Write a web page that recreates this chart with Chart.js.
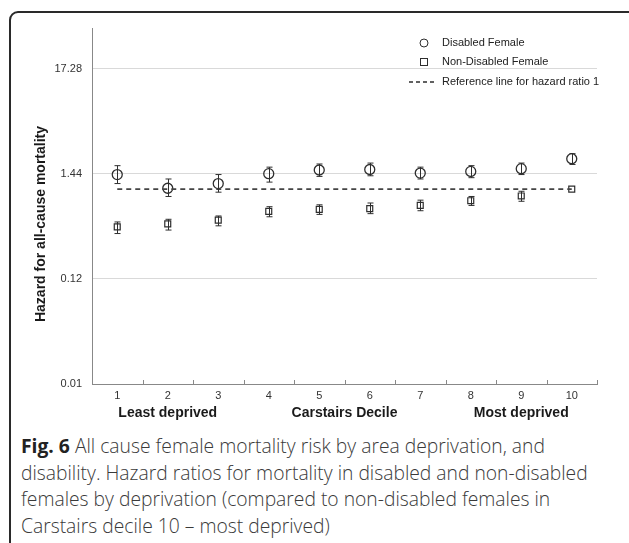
<!DOCTYPE html>
<html>
<head>
<meta charset="utf-8">
<script src="https://cdn.jsdelivr.net/npm/chart.js@4.4.1/dist/chart.umd.min.js"></script>
<style>
  html, body { margin: 0; padding: 0; background: #fff; overflow: hidden; width: 629px; height: 543px; }
  .card { position: absolute; left: 9px; top: 11px; width: 700px; height: 600px; border: 2px solid #2a2a2a; border-radius: 9px; }
  .plot { position: absolute; left: 0; top: 0; width: 629px; height: 430px; }
  .caption { position: absolute; left: 21px; top: 433px; font-family: 'Open Sans', sans-serif; font-weight: 300; font-size: 19.3px; line-height: 26.5px; color: #3a3a3a; white-space: nowrap; }
  .caption b { color: #222; font-weight: 700; }
</style>
</head>
<body>
<div class="card"></div>
<div class="plot"><canvas id="myChart" width="629" height="430"></canvas></div>
<div class="caption">
  <b>Fig. 6</b> All cause female mortality risk by area deprivation, and<br>
  disability. Hazard ratios for mortality in disabled and non-disabled<br>
  females by deprivation (compared to non-disabled females in<br>
  Carstairs decile 10 – most deprived)
</div>
<script>
const deciles = ['1', '2', '3', '4', '5', '6', '7', '8', '9', '10'];
const disabledHR = [1.41, 1.02, 1.14, 1.44, 1.57, 1.59, 1.46, 1.52, 1.62, 2.05];
const disabledLow = [1.14, 0.84, 0.93, 1.18, 1.35, 1.37, 1.27, 1.31, 1.41, 1.79];
const disabledHigh = [1.74, 1.27, 1.41, 1.68, 1.81, 1.85, 1.68, 1.74, 1.85, 2.31];
const nonDisabledHR = [0.41, 0.44, 0.48, 0.59, 0.62, 0.63, 0.68, 0.76, 0.85, 1.00];
const nonDisabledLow = [0.35, 0.38, 0.42, 0.52, 0.55, 0.56, 0.60, 0.68, 0.75, null];
const nonDisabledHigh = [0.46, 0.49, 0.53, 0.66, 0.69, 0.72, 0.77, 0.84, 0.95, null];
const referenceHR = [1, 1, 1, 1, 1, 1, 1, 1, 1, 1];
const yTickValues = [0.01, 0.12, 1.44, 17.28];
const yTickLabels = ['0.01', '0.12', '1.44', '17.28'];
const groupLabels = ['Least deprived', 'Carstairs Decile', 'Most deprived'];

const ink = '#2e2e2e';
const font = "'Liberation Sans', Arial, sans-serif";

// error bars, legend, inside tick marks and the extra axis texts
const extras = {
  id: 'extras',
  afterDatasetsDraw(chart) {
    const { ctx, chartArea, scales: { x, y } } = chart;
    ctx.save();
    ctx.strokeStyle = ink;
    ctx.lineWidth = 1;
    [[disabledLow, disabledHigh], [nonDisabledLow, nonDisabledHigh]].forEach(([lo, hi]) => {
      lo.forEach((v, i) => {
        if (v == null) return;
        const px = Math.round(x.getPixelForValue(i)) + 0.5;
        const y1 = y.getPixelForValue(v);
        const y2 = y.getPixelForValue(hi[i]);
        ctx.beginPath();
        ctx.moveTo(px, y1); ctx.lineTo(px, y2);
        ctx.moveTo(px - 3, y1); ctx.lineTo(px + 3, y1);
        ctx.moveTo(px - 3, y2); ctx.lineTo(px + 3, y2);
        ctx.stroke();
      });
    });

    // small tick marks between deciles, pointing into the plot
    const step = x.getPixelForValue(1) - x.getPixelForValue(0);
    ctx.strokeStyle = '#888';
    ctx.beginPath();
    for (let i = 0; i <= deciles.length; i++) {
      const bx = Math.round(x.getPixelForValue(0) - step / 2 + i * step) + 0.5;
      ctx.moveTo(bx, chartArea.bottom);
      ctx.lineTo(bx, chartArea.bottom - 4);
    }
    ctx.stroke();

    // legend
    ctx.strokeStyle = ink;
    const mx = chartArea.right - 173;
    const tx = chartArea.right - 155;
    const rows = [chartArea.top + 15, chartArea.top + 34, chartArea.top + 54];
    ctx.lineWidth = 1;
    ctx.beginPath();
    ctx.arc(mx, rows[0], 4, 0, Math.PI * 2);
    ctx.stroke();
    ctx.strokeRect(mx - 3.5, rows[1] - 3.5, 7, 7);
    ctx.setLineDash([4, 3]);
    ctx.lineWidth = 1.5;
    ctx.beginPath();
    ctx.moveTo(mx - 15, rows[2]); ctx.lineTo(mx + 13, rows[2]);
    ctx.stroke();
    ctx.setLineDash([]);
    ctx.fillStyle = '#222';
    ctx.font = '11px ' + font;
    ctx.textBaseline = 'middle';
    ctx.textAlign = 'left';
    ctx.fillText('Disabled Female', tx, rows[0]);
    ctx.fillText('Non-Disabled Female', tx, rows[1]);
    ctx.fillText('Reference line for hazard ratio 1', tx, rows[2]);

    // group labels under the x axis
    ctx.font = 'bold 14px ' + font;
    ctx.textAlign = 'center';
    ctx.fillStyle = '#1a1a1a';
    const gy = chartArea.bottom + 29;
    ctx.fillText(groupLabels[0], x.getPixelForValue(1), gy);
    ctx.fillText(groupLabels[1], (chartArea.left + chartArea.right) / 2, gy);
    ctx.fillText(groupLabels[2], x.getPixelForValue(8), gy);

    // y title
    ctx.save();
    ctx.translate(chartArea.left - 51, (chartArea.top + chartArea.bottom) / 2 + 18);
    ctx.rotate(-Math.PI / 2);
    ctx.fillText('Hazard for all-cause mortality', 0, 0);
    ctx.restore();
    ctx.restore();
  }
};

const ctx = document.getElementById('myChart').getContext('2d');
new Chart(ctx, {
  type: 'line',
  data: {
    labels: deciles,
    datasets: [
      {
        label: 'Reference line for hazard ratio 1',
        data: referenceHR,
        borderColor: '#444',
        borderWidth: 1.8,
        borderDash: [5, 4],
        pointRadius: 0,
        fill: false
      },
      {
        label: 'Disabled Female',
        data: disabledHR,
        showLine: false,
        pointStyle: 'circle',
        pointRadius: 5,
        pointBorderWidth: 1.3,
        pointBorderColor: ink,
        pointBackgroundColor: 'rgba(255,255,255,0)'
      },
      {
        label: 'Non-Disabled Female',
        data: nonDisabledHR,
        showLine: false,
        pointStyle: 'rect',
        pointRadius: 4.2,
        pointBorderWidth: 1.2,
        pointBorderColor: ink,
        pointBackgroundColor: 'rgba(255,255,255,0)'
      }
    ]
  },
  options: {
    responsive: false,
    animation: false,
    layout: { padding: { top: 28, right: 32, left: 0, bottom: 0 } },
    plugins: {
      legend: { display: false },
      tooltip: { enabled: false }
    },
    scales: {
      x: {
        type: 'category',
        offset: true,
        afterFit: (s) => { s.height = 46; },
        grid: { offset: true, drawOnChartArea: false, tickLength: -4, color: 'rgba(0,0,0,0)' },
        border: { color: '#888' },
        ticks: { padding: 9, color: '#333', font: { family: font, size: 11 } }
      },
      y: {
        type: 'logarithmic',
        min: 0.01,
        max: 45,
        afterFit: (s) => { s.width = 92; },
        afterBuildTicks: (s) => { s.ticks = yTickValues.map(v => ({ value: v })); },
        grid: { color: '#d9d9d9', drawTicks: false },
        border: { color: '#888' },
        ticks: {
          padding: 10,
          color: '#333',
          font: { family: font, size: 11 },
          callback: (v, i) => yTickLabels[i]
        }
      }
    }
  },
  plugins: [extras]
});
</script>
</body>
</html>
